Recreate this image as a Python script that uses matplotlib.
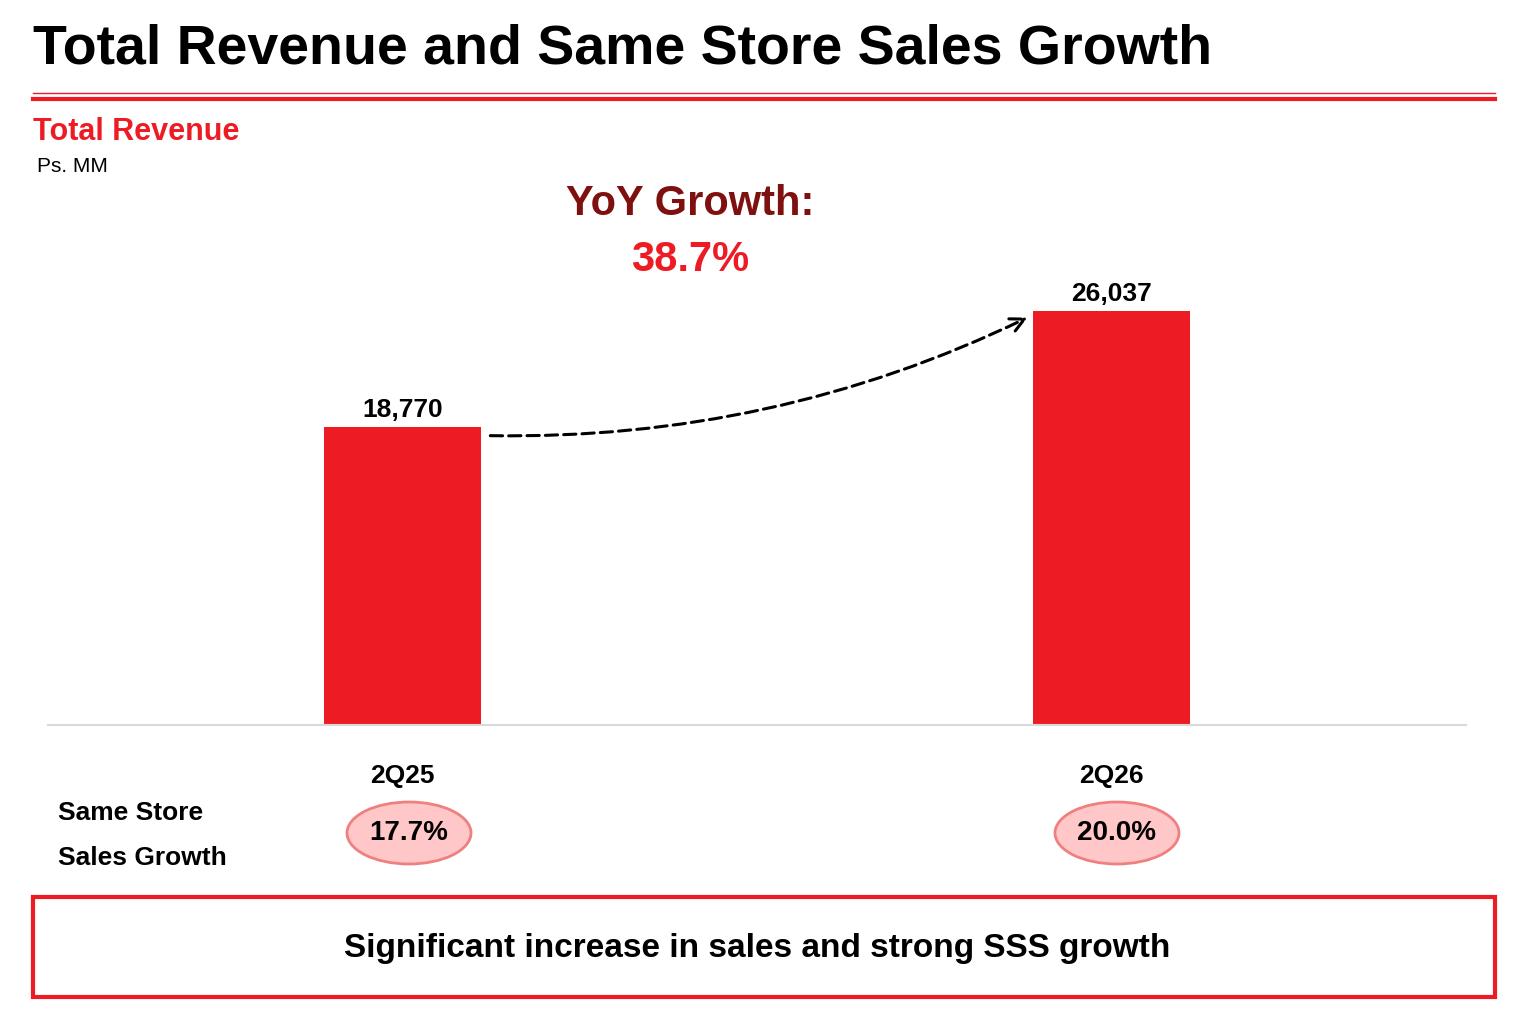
import matplotlib.pyplot as plt
from matplotlib.patches import Ellipse, Rectangle
from matplotlib.lines import Line2D

quarters = ['2Q25', '2Q26']
revenue = [18770, 26037]
revenue_labels = ['18,770', '26,037']
sss_growth = ['17.7%', '20.0%']
yoy_growth = '38.7%'

RED = '#ED1C24'
DARK_RED = '#7F1010'
W, H = 1518, 1016

fig = plt.figure(figsize=(W / 100, H / 100), dpi=100)
plt.rcParams['font.family'] = ['Liberation Sans', 'DejaVu Sans']

def fx(px):
    return px / W

def fy(py):
    return 1 - py / H

# header
fig.text(fx(33), fy(50), 'Total Revenue and Same Store Sales Growth',
         fontsize=40, fontweight='bold', va='center')
fig.add_artist(Line2D([fx(33), fx(1495)], [fy(93), fy(93)], color=RED, lw=1))
fig.add_artist(Line2D([fx(33), fx(1495)], [fy(99), fy(99)], color=RED, lw=3))
fig.text(fx(33), fy(132), 'Total Revenue', fontsize=22, fontweight='bold', color=RED, va='center')
fig.text(fx(37), fy(167), 'Ps. MM', fontsize=15, va='center')

# bars
ax = fig.add_axes([fx(48), fy(725), fx(1466) - fx(48), (725 - 184.4) / H])
x = range(len(quarters))
ax.bar(x, revenue, width=0.2214, color=RED)
for i, v in enumerate(revenue):
    ax.text(i, v + 300, revenue_labels[i], ha='center', va='bottom', fontsize=19, fontweight='bold')
ax.set_xlim(-0.5, 1.5)
ax.set_ylim(0, 34000)
for s in ['top', 'right', 'left']:
    ax.spines[s].set_visible(False)
ax.spines['bottom'].set_color('#D9D9D9')
ax.spines['bottom'].set_linewidth(1.5)
ax.set_yticks([])
ax.set_xticks(list(x))
ax.set_xticklabels(quarters, fontsize=19, fontweight='bold')
ax.tick_params(axis='x', length=0, pad=28)

# growth arrow
ax.annotate('', xy=(0.885, 25700), xytext=(0.12, 18200),
            arrowprops=dict(arrowstyle='->', color='black', lw=2.2, ls=(0, (4, 2)),
                            connectionstyle='arc3,rad=0.12', mutation_scale=25))

fig.text(fx(690), fy(204), 'YoY Growth:', fontsize=30, fontweight='bold', color=DARK_RED, ha='center', va='center')
fig.text(fx(690), fy(260), yoy_growth, fontsize=30, fontweight='bold', color=RED, ha='center', va='center')

# same store sales
fig.text(fx(58), fy(813), 'Same Store', fontsize=19, fontweight='bold', va='center')
fig.text(fx(58), fy(858), 'Sales Growth', fontsize=19, fontweight='bold', va='center')
for cx, lab in zip([409, 1117], sss_growth):
    fig.add_artist(Ellipse((fx(cx), fy(833)), fx(124), 62 / H, facecolor='#FFC7C7',
                           edgecolor='#F08080', lw=2))
    fig.text(fx(cx), fy(833), lab, fontsize=20, fontweight='bold', ha='center', va='center')

# bottom box
fig.add_artist(Rectangle((fx(33), fy(997)), fx(1495) - fx(33), (997 - 897) / H,
                         facecolor='white', edgecolor=RED, lw=3))
fig.text(fx(757), fy(948), 'Significant increase in sales and strong SSS growth',
         fontsize=24, fontweight='bold', ha='center', va='center')

fig.savefig('out.png', dpi=100)
